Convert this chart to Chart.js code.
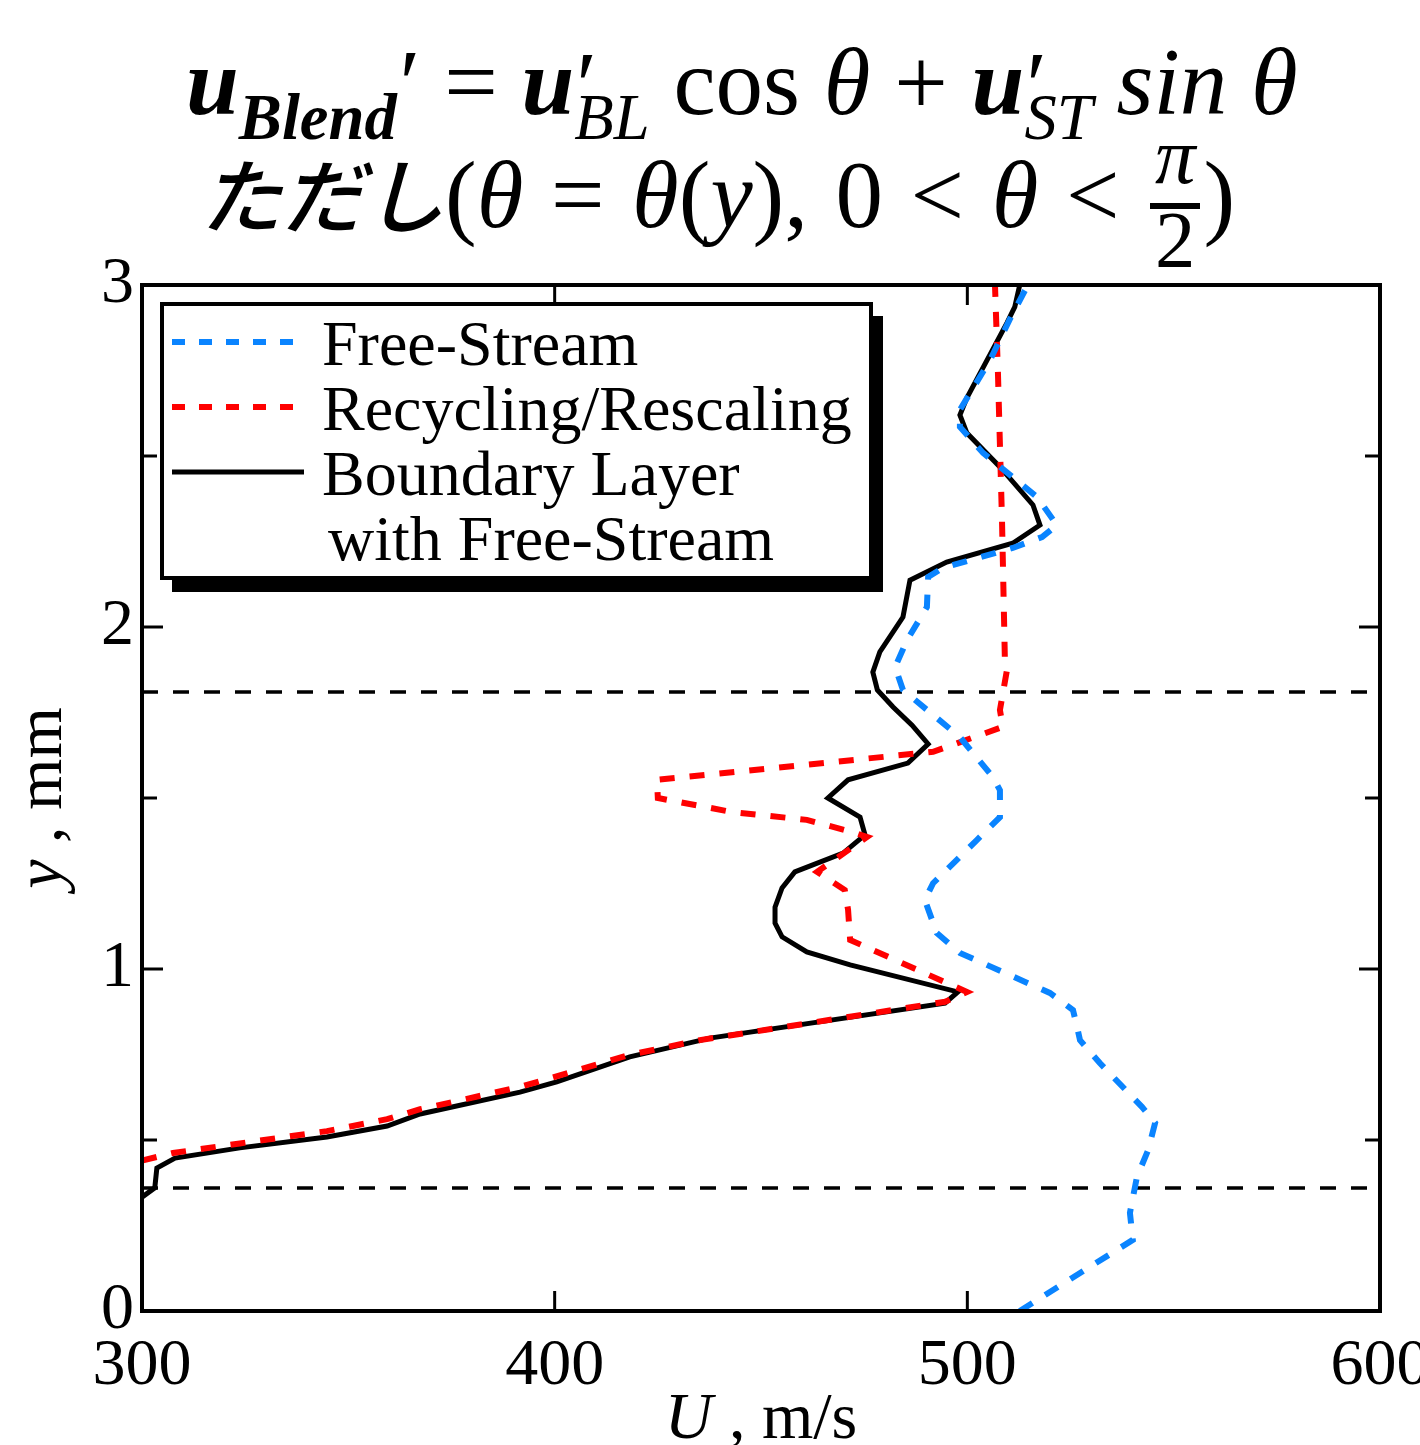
<!DOCTYPE html>
<html>
<head>
<meta charset="utf-8">
<script src="https://cdn.jsdelivr.net/npm/chart.js@4.4.0/dist/chart.umd.min.js"></script>
<style>
html, body { margin: 0; padding: 0; background: #fff; }
#wrap { position: relative; width: 1420px; height: 1445px; overflow: hidden; }
#profile { position: absolute; left: 0; top: 0; }
.eq { position: absolute; white-space: nowrap; font-family: 'Liberation Serif', serif; line-height: 1; color: #000; }
.eq b { font-weight: bold; font-style: italic; }
.eq i { font-style: italic; }
.sub { font-size: 0.68em; position: relative; top: 0.38em; }
.pr { position: relative; top: 0.02em; margin-left: 0.03em; }
.ss { display: inline-block; position: relative; font-size: 0.68em; vertical-align: baseline; }
.ss .p { position: absolute; left: 0.02em; top: -0.22em; font-size: 1.47em; }
.ss .s { position: relative; top: 0.38em; }
.jp { font-family: 'Noto Sans CJK JP', sans-serif; font-style: italic; font-weight: 500; font-size: 0.86em; }
.frac { display: inline-block; position: relative; width: 0.62em; height: 0.3em; font-size: 0.85em; margin: 0 0.04em; }
.frac .bar { position: absolute; left: 0; right: 0; top: 0; height: 6px; background: #000; }
.frac .n, .frac .d { position: absolute; left: 0; right: 0; text-align: center; line-height: 1; }
.frac .n { top: -1.07em; }
.frac .d { top: -0.03em; }
</style>
</head>
<body>
<div id="wrap">
  <canvas id="profile" width="1420" height="1445"></canvas>
  <div class="eq" id="eq1" style="left:186px; top:35px; font-size:95px;"><b>u</b><span class="sub"><b>Blend</b></span><span class="pr">′</span> = <b>u</b><span class="ss"><span class="p">′</span><span class="s"><i>BL</i></span></span> cos <i>θ</i> + <b>u</b><span class="ss"><span class="p">′</span><span class="s"><i>ST</i></span></span> <i>sin θ</i></div>
  <div class="eq" id="eq2" style="left:200px; top:148px; font-size:95px; word-spacing:0.04em;"><span class="jp">ただし</span>(<i>θ</i> = <i>θ</i>(<i>y</i>), 0 &lt; <i>θ</i> &lt; <span class="frac"><span class="bar"></span><span class="n"><i>π</i></span><span class="d">2</span></span>)</div>
</div>
<script>
// wall-normal position y (mm) vs streamwise velocity U (m/s)
const freeStreamU = [512.7, 540.1, 539.4, 541.1, 543.8, 545.5, 542.3, 532.1, 527.3, 526.6, 525.6, 520, 503.8, 498.2, 492.6, 489.7, 491.7, 502.3, 507.9, 507.9, 506.2, 498.2, 484.4, 482.5, 485.4, 490.2, 490.5, 494.1, 511, 518.1, 521.7, 516.9, 503.8, 498.2, 498.2, 505.5, 510.3, 514];
const freeStreamY = [0, 0.208, 0.287, 0.392, 0.47, 0.55, 0.597, 0.725, 0.792, 0.83, 0.88, 0.93, 1.017, 1.047, 1.105, 1.202, 1.251, 1.377, 1.444, 1.523, 1.561, 1.678, 1.816, 1.883, 1.962, 2.058, 2.146, 2.173, 2.231, 2.263, 2.298, 2.38, 2.509, 2.585, 2.635, 2.78, 2.9, 2.985];

const recycleU = [300, 307.5, 323.7, 344.8, 359.4, 367.4, 391.6, 418.2, 435.2, 494.6, 499.9, 471.6, 471.1, 470.3, 463.6, 475.7, 472.3, 461.1, 443, 425, 424.8, 491.7, 508.6, 507.9, 509.6, 509.1, 508.4, 507.4, 506.7];
const recycleY = [0.44, 0.462, 0.49, 0.526, 0.561, 0.59, 0.655, 0.749, 0.792, 0.904, 0.933, 1.085, 1.173, 1.231, 1.284, 1.386, 1.4, 1.436, 1.459, 1.5, 1.553, 1.635, 1.708, 1.757, 1.874, 1.904, 2.313, 2.751, 3.0];

const blendU = [300, 303.1, 303.6, 308, 323.7, 344.8, 359.4, 367.4, 391.6, 400.5, 418.2, 437.6, 494.6, 497.7, 471.6, 461.1, 455.1, 453.4, 453.4, 455.1, 458.2, 469.9, 475.2, 474, 466.2, 471.1, 485.6, 490.5, 486.6, 482, 478.2, 477.1, 478.8, 484.4, 486.1, 495, 511, 517.6, 515.9, 507.9, 499.9, 498.2, 499.9, 509.6, 511.5, 512.7];
const blendY = [0.333, 0.36, 0.418, 0.447, 0.477, 0.509, 0.541, 0.576, 0.64, 0.67, 0.743, 0.798, 0.9, 0.933, 1.012, 1.05, 1.094, 1.134, 1.181, 1.237, 1.284, 1.339, 1.392, 1.444, 1.5, 1.553, 1.602, 1.658, 1.713, 1.766, 1.816, 1.868, 1.927, 2.029, 2.137, 2.19, 2.245, 2.298, 2.357, 2.468, 2.567, 2.62, 2.67, 2.889, 2.936, 3.0];

// blending zone limits (horizontal dashed lines)
const blendLimitsY = [1.81, 0.36];
const xRange = [300, 600];

const xTickValues = [300, 400, 500, 600];
const yTickValues = [0, 0.5, 1, 1.5, 2, 2.5, 3];

const toPoints = (us, ys) => us.map((u, i) => ({ x: u, y: ys[i] }));

Chart.defaults.font.family = "'Liberation Serif', serif";
Chart.defaults.color = '#000';

const datasets = [
    {
        label: 'Free-Stream',
        data: toPoints(freeStreamU, freeStreamY),
        borderColor: '#0a84ff',
        borderWidth: 6,
        borderDash: [15, 15],
        inLegend: true
    },
    {
        label: 'Recycling/Rescaling',
        data: toPoints(recycleU, recycleY),
        borderColor: '#ff0000',
        borderWidth: 6,
        borderDash: [15, 15],
        inLegend: true
    },
    {
        label: 'Boundary Layer\nwith Free-Stream',
        data: toPoints(blendU, blendY),
        borderColor: '#000',
        borderWidth: 5,
        inLegend: true
    }
];
blendLimitsY.forEach(v => {
    datasets.push({
        label: 'limit',
        data: toPoints(xRange, [v, v]),
        borderColor: '#000',
        borderWidth: 3.5,
        borderDash: [16, 15],
        inLegend: false
    });
});
datasets.forEach(d => { d.showLine = true; d.pointRadius = 0; d.tension = 0; d.fill = false; });

function seg(ctx, x1, y1, x2, y2) {
    ctx.beginPath(); ctx.moveTo(x1, y1); ctx.lineTo(x2, y2); ctx.stroke();
}

const decor = {
    id: 'decor',
    afterDatasetsDraw(chart) {
        const { ctx, chartArea: a, scales: { x, y } } = chart;
        ctx.save();
        ctx.setLineDash([]);
        ctx.strokeStyle = '#000';
        ctx.lineWidth = 3;
        // inward ticks
        xTickValues.forEach(v => {
            const px = x.getPixelForValue(v);
            seg(ctx, px, a.bottom, px, a.bottom - 20);
            seg(ctx, px, a.top, px, a.top + 20);
        });
        yTickValues.forEach(v => {
            const py = y.getPixelForValue(v);
            const len = Number.isInteger(v) ? 21 : 15;
            seg(ctx, a.left, py, a.left + len, py);
            seg(ctx, a.right, py, a.right - len, py);
        });
        // frame
        ctx.lineWidth = 4;
        ctx.strokeRect(a.left, a.top, a.right - a.left, a.bottom - a.top);

        // legend box with shadow
        const bx = 162, by = 304, bw = 709, bh = 274;
        ctx.fillStyle = '#000';
        ctx.fillRect(bx + 10, by + 12, bw + 2, bh + 2);
        ctx.fillStyle = '#fff';
        ctx.fillRect(bx, by, bw, bh);
        ctx.lineWidth = 4;
        ctx.strokeRect(bx, by, bw, bh);
        ctx.font = '64px "Liberation Serif"';
        ctx.textBaseline = 'alphabetic';
        let row = 0;
        chart.data.datasets.filter(d => d.inLegend).forEach(d => {
            const ly = 342 + row * 65;
            ctx.strokeStyle = d.borderColor;
            ctx.lineWidth = d.borderWidth;
            ctx.setLineDash(d.borderDash ? [13, 14] : []);
            seg(ctx, 172, ly, 304, ly);
            ctx.setLineDash([]);
            ctx.fillStyle = '#000';
            d.label.split('\n').forEach((t, k) => {
                ctx.fillText(t, k ? 328 : 322, 365 + row * 65);
                row++;
            });
        });

        // axis titles with italic variable
        ctx.fillStyle = '#000';
        ctx.textAlign = 'left';
        const ital = 'italic 66px "Liberation Serif"';
        const roman = '66px "Liberation Serif"';
        ctx.font = ital;
        const wu = ctx.measureText('U').width;
        ctx.font = roman;
        const wr = ctx.measureText(' , m/s').width;
        let sx = (a.left + a.right) / 2 - (wu + wr) / 2;
        ctx.font = ital;
        ctx.fillText('U', sx, 1438);
        ctx.font = roman;
        ctx.fillText(' , m/s', sx + wu, 1438);

        ctx.translate(61, (a.top + a.bottom) / 2);
        ctx.rotate(-Math.PI / 2);
        ctx.font = ital;
        const wy = ctx.measureText('y').width;
        ctx.font = roman;
        const wm = ctx.measureText(' , mm').width;
        sx = -(wy + wm) / 2;
        ctx.font = ital;
        ctx.fillText('y', sx, 0);
        ctx.font = roman;
        ctx.fillText(' , mm', sx + wy, 0);
        ctx.restore();
    }
};

new Chart(document.getElementById('profile'), {
    type: 'scatter',
    data: { datasets: datasets },
    plugins: [decor],
    options: {
        responsive: false,
        animation: false,
        layout: { padding: { top: 285, right: 40, left: 0, bottom: 0 } },
        plugins: {
            legend: { display: false },
            tooltip: { enabled: false }
        },
        scales: {
            x: {
                type: 'linear',
                min: 300,
                max: 600,
                grid: { display: false, drawTicks: false },
                border: { display: false },
                ticks: { stepSize: 100, padding: 16, font: { size: 66 }, color: '#000', maxRotation: 0 },
                afterFit(scale) { scale.height = 134; scale.paddingLeft = 0; scale.paddingRight = 0; }
            },
            y: {
                type: 'linear',
                min: 0,
                max: 3,
                grid: { display: false, drawTicks: false },
                border: { display: false },
                ticks: { stepSize: 1, padding: 8, font: { size: 66 }, color: '#000' },
                afterFit(scale) { scale.width = 142; scale.paddingTop = 0; scale.paddingBottom = 0; }
            }
        }
    }
});
</script>
</body>
</html>
